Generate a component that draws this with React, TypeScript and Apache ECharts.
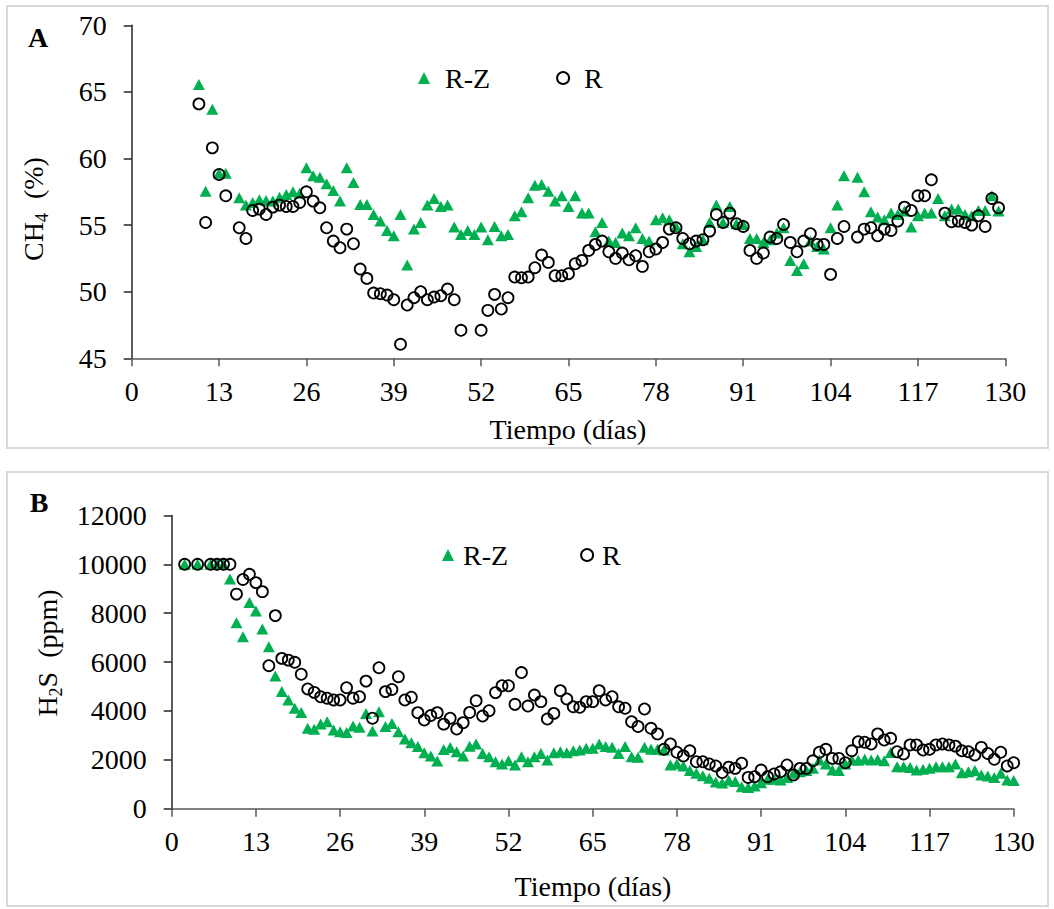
import { useEffect, useRef } from 'react';
import * as echarts from 'echarts';

const FONT = '"Times New Roman", "Liberation Serif", serif';
const GREEN = '#00B050';

// ---------- Panel A: CH4 (%) ----------
const ch4RZDays = [10, 11, 12, 13, 14, 16, 17, 18, 19, 20, 21, 22, 23, 24, 25, 26, 27, 28, 29, 30, 31, 32, 33, 34, 35, 36, 37, 38, 39, 40, 41, 42, 43, 44, 45, 46, 47, 48, 49, 50, 51, 52, 53, 54, 55, 56, 57, 58, 59, 60, 61, 62, 63, 64, 65, 66, 67, 68, 69, 70, 71, 72, 73, 74, 75, 76, 77, 78, 79, 80, 81, 82, 83, 84, 85, 86, 87, 88, 89, 90, 91, 92, 93, 94, 95, 96, 97, 98, 99, 100, 101, 102, 103, 104, 105, 106, 108, 109, 110, 111, 112, 113, 114, 115, 116, 117, 118, 119, 120, 121, 122, 123, 124, 125, 126, 127, 128, 129];
const ch4RZ = [65.55, 57.55, 63.7, 58.9, 58.9,
  57.05, 56.5, 56.7, 56.9, 56.85, 56.8, 57.1, 57.3, 57.5, 57.4,
  59.3, 58.7, 58.6, 58.1, 57.6, 56.8, 59.3, 58.2, 56.55, 56.55,
  55.8, 55.3, 54.6, 54.2, 55.8, 52.0, 54.7, 55.2, 56.5, 57.0,
  56.4, 56.5, 54.85, 54.3, 54.6, 54.3, 54.85, 53.9, 54.9, 54.2,
  54.3, 55.7, 56.0, 57.05, 58.0, 58.05, 57.55, 56.8, 57.2, 56.4,
  57.2, 55.9, 55.9, 54.5, 55.2, 53.8, 53.7, 54.4, 54.2, 54.8,
  54.0, 53.8, 55.4, 55.55, 55.4, 54.9, 53.6, 53.0, 53.4, 53.9,
  55.2, 56.5, 55.2, 56.4, 55.1, 55.05, 54.0, 54.0, 53.7, 53.9,
  54.4, 54.8, 52.35, 51.6, 52.1, 53.8, 53.4, 53.2, 54.8, 56.5,
  58.7,
  58.6, 57.5, 56.0, 55.6, 55.4, 55.9, 55.8, 56.05, 54.85, 55.7,
  55.9, 55.9, 57.0, 55.7, 56.2, 56.2, 55.8, 55.7, 56.1, 56.1,
  57.2, 56.05];

const ch4RDays = [10, 11, 12, 13, 14, 16, 17, 18, 19, 20, 21, 22, 23, 24, 25, 26, 27, 28, 29, 30, 31, 32, 33, 34, 35, 36, 37, 38, 39, 40, 41, 42, 43, 44, 45, 46, 47, 48, 49, 52, 53, 54, 55, 56, 57, 58, 59, 60, 61, 62, 63, 64, 65, 66, 67, 68, 69, 70, 71, 72, 73, 74, 75, 76, 77, 78, 79, 80, 81, 82, 83, 84, 85, 86, 87, 88, 89, 90, 91, 92, 93, 94, 95, 96, 97, 98, 99, 100, 101, 102, 103, 104, 105, 106, 108, 109, 110, 111, 112, 113, 114, 115, 116, 117, 118, 119, 121, 122, 123, 124, 125, 126, 127, 128, 129];
const ch4R = [64.1, 55.2, 60.8, 58.8, 57.2,
  54.8, 54.0, 56.1, 56.2, 55.8, 56.35, 56.5, 56.4, 56.4, 56.7,
  57.5, 56.8, 56.3, 54.8, 53.8, 53.3, 54.7, 53.6, 51.7, 51.0,
  49.9, 49.85, 49.75, 49.4, 46.05, 49.0, 49.55, 50.0, 49.4, 49.6,
  49.7, 50.2, 49.4, 47.1,
  47.1, 48.6, 49.8, 48.7, 49.55, 51.1, 51.05, 51.1, 51.8, 52.75,
  52.2, 51.2, 51.2, 51.35, 52.1, 52.35, 53.1, 53.55, 53.8, 53.0,
  52.5, 52.9, 52.4, 52.7, 51.9, 53.0, 53.2, 53.7, 54.7, 54.8,
  54.0, 53.6, 53.8, 53.9, 54.55, 55.8, 55.2, 55.9, 55.1, 54.9,
  53.1, 52.5, 52.9, 54.1, 54.0, 55.05, 53.7, 53.0, 53.8, 54.35,
  53.55, 53.55, 51.3, 54.0, 54.9,
  54.1, 54.7, 54.8, 54.2, 54.7, 54.6, 55.3, 56.35, 56.1, 57.2, 57.2, 58.4,
  55.9, 55.25, 55.3, 55.2, 55.0, 55.7, 54.9, 57.0, 56.3];

// ---------- Panel B: H2S (ppm) ----------
const h2sDays = [2, 4, 6, 7, 8, 9, 10, 11, 12, 13, 14, 15, 16, 17, 18, 19, 20, 21, 22, 23, 24, 25, 26, 27, 28, 29, 30, 31, 32, 33, 34, 35, 36, 37, 38, 39, 40, 41, 42, 43, 44, 45, 46, 47, 48, 49, 50, 51, 52, 53, 54, 55, 56, 57, 58, 59, 60, 61, 62, 63, 64, 65, 66, 67, 68, 69, 70, 71, 72, 73, 74, 75, 76, 77, 78, 79, 80, 81, 82, 83, 84, 85, 86, 87, 88, 89, 90, 91, 92, 93, 94, 95, 96, 97, 98, 99, 100, 101, 102, 103, 104, 105, 106, 107, 108, 109, 110, 111, 112, 113, 114, 115, 116, 117, 118, 119, 120, 121, 122, 123, 124, 125, 126, 127, 128, 129, 130];
const h2sRZ = [10000, 10000, 10000, 10000, 10000,
  9400, 7610, 7040, 8440, 8090, 7350, 6630, 5430, 4790, 4450,
  4110, 3940, 3290, 3250, 3470, 3560, 3220, 3150, 3120, 3380,
  3330, 3900, 3180, 3970, 3360, 3490, 3150, 2850, 2700, 2540,
  2290, 2160, 1950, 2420, 2500, 2330, 2160, 2560, 2650, 2260,
  2130, 1920, 1830, 1960, 1790, 2130, 1920, 2130, 2260, 1990,
  2290, 2330, 2290, 2370, 2400, 2470, 2470, 2650, 2540, 2510,
  2260, 2540, 2130, 2100, 2510, 2430, 2430, 2400, 1790, 1830,
  1750, 1560, 1450, 1350, 1250, 1090, 1050, 1160, 1110, 900,
  870, 930, 1060, 1200, 1200, 1170, 1280, 1450, 1510, 1560,
  1650, 1990, 1830, 1580, 1560, 1830, 2000, 1980, 2030, 1990,
  2010, 1960, 2300, 1720, 1720, 1690, 1580, 1610, 1650, 1720,
  1720, 1720, 1830, 1470, 1510, 1560, 1380, 1340, 1280, 1450,
  1170, 1150];
const h2sR = [10000, 10000, 10000, 10000, 10000,
  10000, 8780, 9380, 9590, 9250, 8880, 5850, 7900, 6150, 6080,
  5990, 5500, 4900, 4760, 4580, 4520, 4450, 4450, 4950, 4520,
  4580, 5220, 3700, 5770, 4790, 4880, 5400, 4450, 4560, 3930,
  3630, 3810, 3930, 3460, 3700, 3260, 3520, 3940, 4420, 3790,
  4010, 4750, 5030, 5030, 4270, 5570, 4200, 4650, 4380, 3670,
  3900, 4830, 4490, 4170, 4150, 4380, 4380, 4830, 4450, 4580,
  4170, 4110, 3560, 3360, 4080, 3290, 3060, 2430, 2650, 2310,
  2160, 2370, 1920, 1920, 1830, 1750, 1480, 1700, 1650, 1860,
  1280, 1310, 1580, 1310, 1420, 1510, 1790, 1380, 1650, 1650,
  1960, 2310, 2430, 2060, 2060, 1880, 2370, 2740, 2720, 2650,
  3060, 2810, 2880, 2330, 2240, 2610, 2610, 2400, 2430, 2610,
  2650, 2610, 2560, 2370, 2330, 2200, 2510, 2260, 2020, 2310,
  1750, 1880];

const seriesNames = ['R-Z', 'R'];
const xTitle = 'Tiempo (días)';
const panelLabels = ['A', 'B'];

const zip = (xs: number[], ys: number[]) => xs.map((x, i) => [x, ys[i]]);

function xAxisCfg(gridIndex: number) {
  return {
    gridIndex,
    type: 'value',
    min: 0,
    max: 130,
    interval: 13,
    axisLine: { show: true, onZero: false, lineStyle: { color: '#595959', width: 1.5 } },
    axisTick: { show: true, length: 8, lineStyle: { color: '#595959', width: 1.5 } },
    axisLabel: { fontFamily: FONT, fontSize: 28, color: '#000', margin: 19, formatter: (v: number) => String(v) },
    splitLine: { show: false },
  };
}

function yAxisCfg(gridIndex: number, min: number, max: number, interval: number) {
  return {
    gridIndex,
    type: 'value',
    min,
    max,
    interval,
    axisLine: { show: true, onZero: false, lineStyle: { color: '#262626', width: 1.5 } },
    axisTick: { show: true, length: 8, lineStyle: { color: '#262626', width: 1.5 } },
    axisLabel: { fontFamily: FONT, fontSize: 28, color: '#000', margin: 25, formatter: (v: number) => String(v) },
    splitLine: { show: false },
  };
}

function seriesPair(axisIndex: number, rzData: number[][], rData: number[][]) {
  return [
    {
      name: seriesNames[0],
      type: 'scatter',
      xAxisIndex: axisIndex,
      yAxisIndex: axisIndex,
      symbol: 'triangle',
      symbolSize: [12, 11],
      itemStyle: { color: GREEN, opacity: 1 },
      data: rzData,
      z: 2,
    },
    {
      name: seriesNames[1],
      type: 'scatter',
      xAxisIndex: axisIndex,
      yAxisIndex: axisIndex,
      symbol: 'circle',
      symbolSize: 11,
      itemStyle: { color: 'transparent', borderColor: '#000', borderWidth: 1.8, opacity: 1 },
      data: rData,
      z: 3,
    },
  ];
}

const rich = {
  m: { fontFamily: FONT, fontSize: 28, lineHeight: 28, verticalAlign: 'top', fill: '#000' },
  s: { fontFamily: FONT, fontSize: 18, lineHeight: 18, verticalAlign: 'top', padding: [14, 0, 0, 0], fill: '#000' },
};

export default function App() {
  const ref = useRef<HTMLDivElement>(null);
  useEffect(() => {
    if (!ref.current) return;
    const chart = echarts.init(ref.current, undefined, { renderer: 'svg' });
    chart.setOption({
      animation: false,
      backgroundColor: '#ffffff',
      grid: [
        { left: 131.7, top: 25.3, width: 873.6, height: 333 },
        { left: 171.7, top: 515.4, width: 842, height: 293.3 },
      ],
      xAxis: [xAxisCfg(0), xAxisCfg(1)],
      yAxis: [yAxisCfg(0, 45, 70, 5), yAxisCfg(1, 0, 12000, 2000)],
      legend: [
        {
          left: 413, top: 59, itemWidth: 12, itemHeight: 12, itemGap: 66,
          textStyle: { fontFamily: FONT, fontSize: 28, color: '#000', padding: [0, 0, 0, 10] },
          data: seriesNames, selectedMode: false,
        },
        {
          left: 437, top: 536, itemWidth: 12, itemHeight: 12, itemGap: 72,
          textStyle: { fontFamily: FONT, fontSize: 28, color: '#000', padding: [0, 0, 0, 4] },
          data: seriesNames, selectedMode: false,
        },
      ],
      series: [
        ...seriesPair(0, zip(ch4RZDays, ch4RZ), zip(ch4RDays, ch4R)),
        ...seriesPair(1, zip(h2sDays, h2sRZ), zip(h2sDays, h2sR)),
      ],
      graphic: [
        { type: 'rect', shape: { x: 7, y: 6, width: 1041, height: 442 }, style: { fill: 'none', stroke: '#d9d9d9', lineWidth: 2 }, silent: true },
        { type: 'rect', shape: { x: 7, y: 472, width: 1041, height: 434 }, style: { fill: 'none', stroke: '#d9d9d9', lineWidth: 2 }, silent: true },
        { type: 'text', x: 38, y: 37, style: { text: panelLabels[0], fontFamily: FONT, fontSize: 28, fontWeight: 'bold', fill: '#000', align: 'center', verticalAlign: 'middle' } },
        { type: 'text', x: 39, y: 502, style: { text: panelLabels[1], fontFamily: FONT, fontSize: 28, fontWeight: 'bold', fill: '#000', align: 'center', verticalAlign: 'middle' } },
        { type: 'text', x: 568, y: 429, style: { text: xTitle, fontFamily: FONT, fontSize: 28, fill: '#000', align: 'center', verticalAlign: 'middle' } },
        { type: 'text', x: 593, y: 886, style: { text: xTitle, fontFamily: FONT, fontSize: 28, fill: '#000', align: 'center', verticalAlign: 'middle' } },
        { type: 'text', x: 33, y: 209, rotation: Math.PI / 2, style: { text: '{m|CH}{s|4}{m|  (%)}', rich, align: 'center', verticalAlign: 'middle' } },
        { type: 'text', x: 47, y: 653, rotation: Math.PI / 2, style: { text: '{m|H}{s|2}{m|S  (ppm)}', rich, align: 'center', verticalAlign: 'middle' } },
      ],
    });
    return () => chart.dispose();
  }, []);
  return <div ref={ref} style={{ position: 'absolute', left: 0, top: 0, width: 1054, height: 909 }} />;
}
